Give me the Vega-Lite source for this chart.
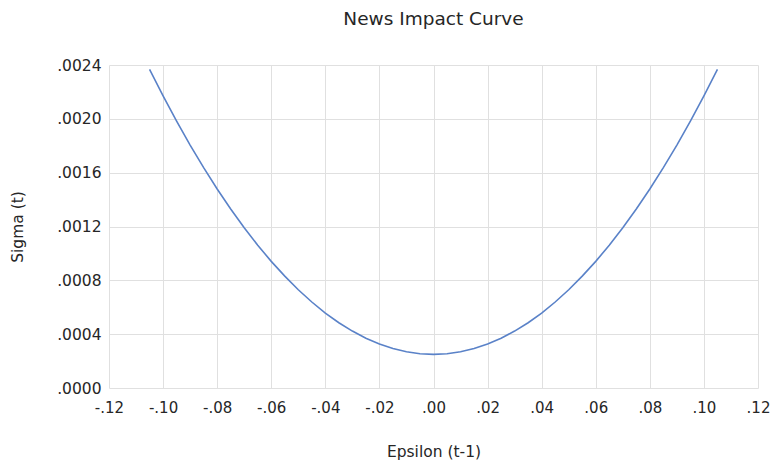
{
  "$schema": "https://vega.github.io/schema/vega-lite/v6.json",
  "autosize": {"type": "none"},
  "width": 649,
  "height": 323,
  "padding": {"left": 109, "top": 65, "right": 12, "bottom": 76},
  "background": "white",
  "title": {"text": "News Impact Curve", "font": "DejaVu Sans", "fontSize": 18.5, "fontWeight": "normal", "color": "#262626", "anchor": "middle", "offset": 30},
  "data": {"values": [
    {"eps": -0.105, "sigma": 0.002367},
    {"eps": -0.100, "sigma": 0.002170},
    {"eps": -0.095, "sigma": 0.001983},
    {"eps": -0.090, "sigma": 0.001805},
    {"eps": -0.085, "sigma": 0.001637},
    {"eps": -0.080, "sigma": 0.001479},
    {"eps": -0.075, "sigma": 0.001330},
    {"eps": -0.070, "sigma": 0.001191},
    {"eps": -0.065, "sigma": 0.001061},
    {"eps": -0.060, "sigma": 0.000941},
    {"eps": -0.055, "sigma": 0.000831},
    {"eps": -0.050, "sigma": 0.000730},
    {"eps": -0.045, "sigma": 0.000639},
    {"eps": -0.040, "sigma": 0.000557},
    {"eps": -0.035, "sigma": 0.000485},
    {"eps": -0.030, "sigma": 0.000423},
    {"eps": -0.025, "sigma": 0.000370},
    {"eps": -0.020, "sigma": 0.000327},
    {"eps": -0.015, "sigma": 0.000293},
    {"eps": -0.010, "sigma": 0.000269},
    {"eps": -0.005, "sigma": 0.000255},
    {"eps": 0.000, "sigma": 0.000250},
    {"eps": 0.005, "sigma": 0.000255},
    {"eps": 0.010, "sigma": 0.000269},
    {"eps": 0.015, "sigma": 0.000293},
    {"eps": 0.020, "sigma": 0.000327},
    {"eps": 0.025, "sigma": 0.000370},
    {"eps": 0.030, "sigma": 0.000423},
    {"eps": 0.035, "sigma": 0.000485},
    {"eps": 0.040, "sigma": 0.000557},
    {"eps": 0.045, "sigma": 0.000639},
    {"eps": 0.050, "sigma": 0.000730},
    {"eps": 0.055, "sigma": 0.000831},
    {"eps": 0.060, "sigma": 0.000941},
    {"eps": 0.065, "sigma": 0.001061},
    {"eps": 0.070, "sigma": 0.001191},
    {"eps": 0.075, "sigma": 0.001330},
    {"eps": 0.080, "sigma": 0.001479},
    {"eps": 0.085, "sigma": 0.001637},
    {"eps": 0.090, "sigma": 0.001805},
    {"eps": 0.095, "sigma": 0.001983},
    {"eps": 0.100, "sigma": 0.002170},
    {"eps": 0.105, "sigma": 0.002367}
  ]},
  "mark": {"type": "line", "color": "#5a82c8", "strokeWidth": 1.6, "clip": true},
  "encoding": {
    "x": {
      "field": "eps", "type": "quantitative",
      "scale": {"domain": [-0.12, 0.12], "nice": false, "zero": false},
      "axis": {
        "title": "Epsilon (t-1)",
        "values": [-0.12, -0.10, -0.08, -0.06, -0.04, -0.02, 0, 0.02, 0.04, 0.06, 0.08, 0.10, 0.12],
        "labelExpr": "replace(replace(format(datum.value, '.2f'), '0.', '.'), '\u2212', '-')",
        "labelOverlap": false, "labelFlush": false, "labelBound": false,
        "domain": false, "ticks": false,
        "grid": true, "gridColor": "#e0e0e0", "gridWidth": 1,
        "labelFont": "DejaVu Sans", "labelFontSize": 15, "labelColor": "#262626", "labelPadding": 12,
        "titleFont": "DejaVu Sans", "titleFontSize": 15.5, "titleFontWeight": "normal", "titleColor": "#262626", "titlePadding": 29
      }
    },
    "y": {
      "field": "sigma", "type": "quantitative",
      "scale": {"domain": [0, 0.0024], "nice": false},
      "axis": {
        "title": "Sigma (t)",
        "values": [0, 0.0004, 0.0008, 0.0012, 0.0016, 0.0020, 0.0024],
        "labelExpr": "replace(format(datum.value, '.4f'), '0.', '.')",
        "labelOverlap": false, "labelFlush": false, "labelBound": false,
        "domain": false, "ticks": false,
        "grid": true, "gridColor": "#e0e0e0", "gridWidth": 1,
        "labelFont": "DejaVu Sans", "labelFontSize": 15.5, "labelColor": "#262626", "labelPadding": 8,
        "titleFont": "DejaVu Sans", "titleFontSize": 15.5, "titleFontWeight": "normal", "titleColor": "#262626", "titlePadding": 31
      }
    }
  },
  "config": {"view": {"stroke": null}}
}
